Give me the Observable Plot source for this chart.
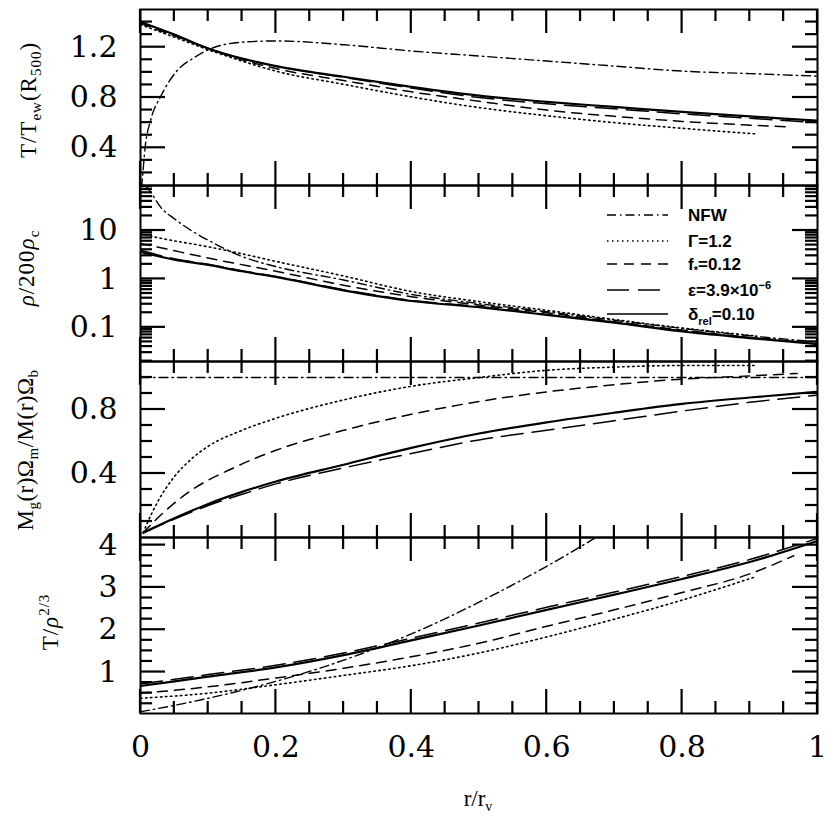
<!DOCTYPE html>
<html><head><meta charset="utf-8">
<script src="https://cdn.jsdelivr.net/npm/d3@7"></script>
<script src="https://cdn.jsdelivr.net/npm/@observablehq/plot@0.6"></script>
<style>
body{margin:0;background:#fff;}
#wrap{position:relative;width:830px;height:823px;overflow:hidden;}
</style></head><body><div id="wrap"></div>
<script>
// ---------- tick positions / labels ----------
const xTickLabels = [0, 0.2, 0.4, 0.6, 0.8, 1];
const xMinorTicks = [0.05,0.1,0.15,0.25,0.3,0.35,0.45,0.5,0.55,0.65,0.7,0.75,0.85,0.9,0.95];

// ---------- Panel 1: T/T_ew(R500) ----------
const tNfwR   = [0.0015,0.003,0.007,0.015,0.03,0.052,0.08,0.1,0.15,0.2,0.3,0.4,0.5,0.6,0.7,0.8,0.9,1.0];
const tNfw    = [0.08,0.17,0.41,0.62,0.81,1.0,1.12,1.18,1.24,1.25,1.22,1.17,1.13,1.09,1.05,1.01,0.99,0.97];
const tGammaR = [0,0.05,0.1,0.15,0.2,0.3,0.4,0.5,0.6,0.7,0.8,0.91];
const tGamma  = [1.38,1.28,1.18,1.09,1.01,0.905,0.805,0.72,0.655,0.60,0.555,0.51];
const tFstarR = [0,0.05,0.1,0.15,0.2,0.3,0.4,0.5,0.6,0.7,0.8,0.9,0.96];
const tFstar  = [1.39,1.29,1.19,1.10,1.03,0.935,0.845,0.77,0.70,0.65,0.61,0.58,0.565];
const tEpsR   = [0,0.05,0.1,0.15,0.2,0.3,0.4,0.5,0.6,0.7,0.8,0.9,1.0];
const tEps    = [1.40,1.30,1.19,1.11,1.05,0.96,0.875,0.80,0.75,0.71,0.67,0.635,0.60];
const tDeltaR = [0,0.05,0.1,0.15,0.2,0.3,0.4,0.5,0.6,0.7,0.8,0.9,1.0];
const tDelta  = [1.40,1.30,1.19,1.11,1.05,0.965,0.885,0.815,0.765,0.725,0.685,0.65,0.615];
const tMajor = [0.4, 0.8, 1.2];
const tMinor = [0.2,0.3,0.5,0.6,0.7,0.9,1.0,1.1,1.3,1.4];

// ---------- Panel 2: rho/200rho_c ----------
const dNfwR   = [0.008,0.015,0.03,0.05,0.075,0.1,0.15,0.2,0.3,0.4,0.5,0.6,0.7,0.8,0.9,1.0];
const dNfw    = [85,62,30,17.5,10,6.3,2.9,1.8,0.95,0.48,0.31,0.21,0.14,0.095,0.067,0.05];
const dGammaR = [0,0.03,0.1,0.15,0.2,0.3,0.4,0.5,0.6,0.7,0.8,0.91];
const dGamma  = [8.5,6.9,4.6,3.3,2.3,1.15,0.55,0.34,0.225,0.145,0.097,0.066];
const dFstarR = [0,0.03,0.1,0.2,0.3,0.4,0.5,0.6,0.7,0.8,0.9,0.96];
const dFstar  = [5.4,4.4,2.7,1.44,0.74,0.43,0.29,0.2,0.13,0.088,0.062,0.052];
const dEpsR   = [0,0.05,0.1,0.15,0.2,0.3,0.4,0.5,0.6,0.7,0.8,0.9,1.0];
const dEps    = [3.9,2.6,2.0,1.48,1.12,0.6,0.36,0.27,0.185,0.128,0.085,0.062,0.047];
const dDeltaR = [0,0.05,0.1,0.15,0.2,0.3,0.4,0.5,0.6,0.7,0.8,0.9,1.0];
const dDelta  = [3.6,2.5,1.95,1.44,1.1,0.58,0.35,0.26,0.18,0.125,0.082,0.06,0.045];
const dMajor = [0.1, 1, 10];
const dMinor = [0.02,0.03,0.04,0.05,0.06,0.07,0.08,0.09,0.2,0.3,0.4,0.5,0.6,0.7,0.8,0.9,2,3,4,5,6,7,8,9,20,30,40,50,60,70,80];

// ---------- Panel 3: M_g Omega_m / M Omega_b ----------
const mNfwR   = [0, 1];
const mNfw    = [1.0, 1.0];
const mGammaR = [0.004,0.01,0.025,0.05,0.075,0.1,0.15,0.2,0.3,0.4,0.5,0.6,0.7,0.8,0.91];
const mGamma  = [0.03,0.09,0.22,0.38,0.49,0.57,0.67,0.745,0.86,0.945,1.0,1.045,1.065,1.075,1.075];
const mFstarR = [0.004,0.02,0.07,0.14,0.2,0.3,0.4,0.5,0.6,0.7,0.8,0.9,0.97];
const mFstar  = [0.03,0.1,0.28,0.44,0.545,0.67,0.77,0.85,0.91,0.955,0.99,1.01,1.025];
const mEpsR   = [0.004,0.05,0.1,0.15,0.2,0.3,0.4,0.5,0.6,0.7,0.8,0.9,1.0];
const mEps    = [0.03,0.115,0.2,0.27,0.335,0.435,0.525,0.61,0.67,0.73,0.79,0.845,0.89];
const mDeltaR = [0.004,0.05,0.1,0.15,0.2,0.3,0.4,0.5,0.6,0.7,0.8,0.9,1.0];
const mDelta  = [0.03,0.12,0.21,0.285,0.35,0.455,0.56,0.65,0.72,0.78,0.835,0.875,0.91];
const mMajor = [0.4, 0.8];
const mMinor = [0.1,0.2,0.3,0.5,0.6,0.7,0.9,1.0];

// ---------- Panel 4: T/rho^(2/3) ----------
const pNfwR   = [0,0.1,0.2,0.3,0.4,0.5,0.6,0.68];
const pNfw    = [0.06,0.38,0.78,1.28,1.9,2.65,3.5,4.25];
const pGammaR = [0,0.1,0.2,0.3,0.4,0.5,0.6,0.7,0.8,0.91];
const pGamma  = [0.38,0.5,0.7,0.92,1.15,1.45,1.83,2.25,2.7,3.26];
const pFstarR = [0,0.1,0.2,0.3,0.4,0.5,0.6,0.7,0.8,0.9,0.965];
const pFstar  = [0.5,0.65,0.86,1.09,1.36,1.68,2.08,2.47,2.88,3.32,3.75];
const pEpsR   = [0,0.1,0.2,0.3,0.4,0.5,0.6,0.7,0.8,0.9,1.0];
const pEps    = [0.72,0.94,1.16,1.45,1.8,2.16,2.53,2.89,3.26,3.66,4.16];
const pDeltaR = [0,0.1,0.2,0.3,0.4,0.5,0.6,0.7,0.8,0.9,1.0];
const pDelta  = [0.67,0.89,1.11,1.40,1.75,2.1,2.47,2.83,3.2,3.6,4.1];
const pMajor = [1, 2, 3, 4];
const pMinor = [0.25,0.5,0.75,1.25,1.5,1.75,2.25,2.5,2.75,3.25,3.5,3.75];

// ---------- styles per model ----------
const STYLE = {
  nfw:   {dash: "9,4,1.5,4", w: 1.4},
  gamma: {dash: "1.5,3.5",   w: 1.6},
  fstar: {dash: "10,7",      w: 1.5},
  eps:   {dash: "22,9",      w: 1.5},
  delta: {dash: null,        w: 2.2}
};

const FONT = "DejaVu Serif";
const wrap = document.getElementById("wrap");
const PANEL_H = 176, TOP0 = 9, ML = 140, MR = 13, W = 830;

function series(xs, ys, key) {
  const data = xs.map((x, i) => ({x, y: ys[i]}));
  const s = STYLE[key];
  return Plot.line(data, {x: "x", y: "y", stroke: "black", strokeWidth: s.w,
    strokeDasharray: s.dash ?? undefined, curve: "monotone-x", clip: true});
}

const panelDefs = [];
function makePanel(idx, yScale, lines, majors, minors, bottomLabels) {
  const marks = [
    Plot.axisY({anchor: "left", ticks: majors, tickSize: 0, tickPadding: 23,
      tickFormat: d => String(d), fontSize: 30, fontFamily: FONT, label: null})
  ];
  if (bottomLabels) {
    marks.push(Plot.axisX({anchor: "bottom", ticks: xTickLabels, tickSize: 0, tickPadding: 22,
      tickFormat: d => String(d), fontSize: 30, fontFamily: FONT, label: null}));
  } else {
    marks.push(Plot.axisX({anchor: "bottom", ticks: [], label: null}));
  }
  marks.push(...lines);
  marks.push(Plot.frame({stroke: "black", strokeWidth: 2}));
  const svg = Plot.plot({
    width: W, height: PANEL_H,
    marginLeft: ML, marginRight: MR, marginTop: 0, marginBottom: 0,
    x: {domain: [0, 1]},
    y: yScale,
    style: {overflow: "visible", background: "transparent"},
    marks
  });
  svg.style.position = "absolute";
  svg.style.left = "0px";
  const top = TOP0 + idx * PANEL_H;
  svg.style.top = top + "px";
  wrap.append(svg);
  panelDefs.push({top, xs: svg.scale("x"), ys: svg.scale("y"), majors, minors});
}

makePanel(0, {domain: [0.1, 1.5]}, [
  series(tNfwR, tNfw, "nfw"), series(tGammaR, tGamma, "gamma"), series(tFstarR, tFstar, "fstar"),
  series(tEpsR, tEps, "eps"), series(tDeltaR, tDelta, "delta")
], tMajor, tMinor, false);

makePanel(1, {type: "log", domain: [0.0197, 85]}, [
  series(dNfwR, dNfw, "nfw"), series(dGammaR, dGamma, "gamma"), series(dFstarR, dFstar, "fstar"),
  series(dEpsR, dEps, "eps"), series(dDeltaR, dDelta, "delta")
], dMajor, dMinor, false);

makePanel(2, {domain: [0, 1.1]}, [
  series(mNfwR, mNfw, "nfw"), series(mGammaR, mGamma, "gamma"), series(mFstarR, mFstar, "fstar"),
  series(mEpsR, mEps, "eps"), series(mDeltaR, mDelta, "delta")
], mMajor, mMinor, false);

makePanel(3, {domain: [0.02, 4.18]}, [
  series(pNfwR, pNfw, "nfw"), series(pGammaR, pGamma, "gamma"), series(pFstarR, pFstar, "fstar"),
  series(pEpsR, pEps, "eps"), series(pDeltaR, pDelta, "delta")
], pMajor, pMinor, true);

// ---------- inward tick marks, positioned with each panel's own Plot scales ----------
let tickSvg = "";
const seg = (x1, y1, x2, y2) =>
  `<line x1="${x1.toFixed(2)}" y1="${y1.toFixed(2)}" x2="${x2.toFixed(2)}" y2="${y2.toFixed(2)}"/>`;
panelDefs.forEach(p => {
  const L = ML, R = W - MR, T = p.top, B = p.top + PANEL_H;
  const yPix = v => T + p.ys.apply(v);
  const xPix = v => p.xs.apply(v);
  const addY = (vals, len) => vals.forEach(v => {
    const y = yPix(v);
    tickSvg += seg(L, y, L + len, y) + seg(R, y, R - len, y);
  });
  const addX = (vals, len) => vals.forEach(v => {
    const x = xPix(v);
    tickSvg += seg(x, T, x, T + len) + seg(x, B, x, B - len);
  });
  addY(p.minors, 12); addY(p.majors, 25);
  addX(xMinorTicks, 12); addX(xTickLabels, 24);
});

// ---------- overlay: axis titles and legend ----------
const legendKeys = ["nfw", "gamma", "fstar", "eps", "delta"];
const legendLabels = [
  "NFW",
  "Γ=1.2",
  "f<tspan font-size='11' dy='4'>*</tspan><tspan dy='-4'>=0.12</tspan>",
  "ε=3.9×10<tspan font-size='11' dy='-7'>−6</tspan>",
  "δ<tspan font-size='11' dy='5'>rel</tspan><tspan dy='-5'>=0.10</tspan>"
];
const legendY = [215, 241, 264, 290, 314];

let legendSvg = "";
legendKeys.forEach((k, i) => {
  const s = STYLE[k];
  legendSvg += `<line x1="607" x2="668" y1="${legendY[i]}" y2="${legendY[i]}" stroke="black" stroke-width="${Math.min(s.w,1.6)}" ${s.dash ? `stroke-dasharray="${s.dash}"` : ""}/>`;
  legendSvg += `<text x="688" y="${legendY[i] + 6}" font-family="Liberation Sans" font-weight="bold" font-size="17">${legendLabels[i]}</text>`;
});

const ser = "font-family='Liberation Serif' font-size='23'";
const overlay = `
<svg xmlns="http://www.w3.org/2000/svg" width="830" height="823" style="position:absolute;left:0;top:0;overflow:visible">
  <g stroke="#000" stroke-width="2.2" stroke-linecap="butt">${tickSvg}</g>
  <text ${ser} text-anchor="middle" transform="translate(36,100) rotate(-90)" letter-spacing="1">T/T<tspan font-size="15" dy="5">ew</tspan><tspan dy="-5">(R</tspan><tspan font-size="15" dy="5">500</tspan><tspan dy="-5">)</tspan></text>
  <text ${ser} text-anchor="middle" transform="translate(34,268) rotate(-90)" letter-spacing="1" font-style="italic">ρ<tspan font-style="normal">/200</tspan>ρ<tspan font-size="15" dy="5" font-style="normal">c</tspan></text>
  <text ${ser} text-anchor="middle" transform="translate(33,450) rotate(-90)" letter-spacing="0.5">M<tspan font-size="15" dy="5">g</tspan><tspan dy="-5">(r)Ω</tspan><tspan font-size="15" dy="5">m</tspan><tspan dy="-5">/M(r)Ω</tspan><tspan font-size="15" dy="5">b</tspan></text>
  <text ${ser} text-anchor="middle" transform="translate(58,622) rotate(-90)" letter-spacing="1">T/<tspan font-style="italic">ρ</tspan><tspan font-size="15" dy="-9">2/3</tspan></text>
  <text ${ser} font-size="21" text-anchor="middle" x="478" y="806">r/r<tspan font-size="14" dy="5">v</tspan></text>
  ${legendSvg}
</svg>`;
wrap.insertAdjacentHTML("beforeend", overlay);
</script>
</body></html>
